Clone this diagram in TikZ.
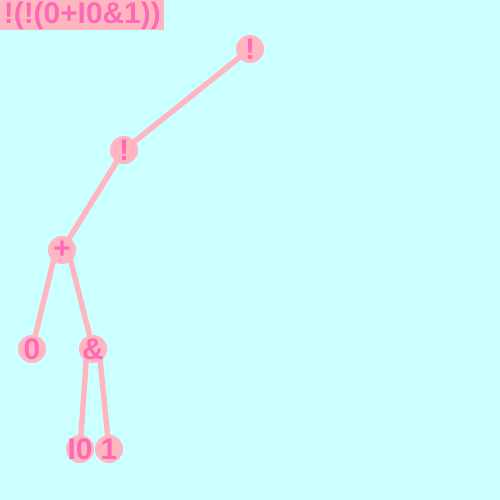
\documentclass[tikz,border=0pt]{standalone}
\usepackage{fontspec}
\setsansfont{Liberation Sans}
\usetikzlibrary{backgrounds}

\definecolor{bgcyan}{HTML}{CCFFFF}
\definecolor{nodepink}{HTML}{FFB6C1}
\definecolor{textpink}{HTML}{FF69B4}

\newcommand{\optext}[1]{\makebox[0pt]{#1}}

\begin{document}
\begin{tikzpicture}[
    op_node/.style={circle, fill=nodepink, inner sep=0pt, minimum size=0.56cm, text=textpink, font=\sffamily\bfseries\fontsize{17}{17}\selectfont},
    edge_style/.style={nodepink, line width=3.1pt},
    title_style/.style={fill=nodepink, text=textpink, anchor=north west, inner xsep=2pt, inner ysep=0pt, minimum height=0.6cm, font=\sffamily\bfseries\fontsize{17}{17}\selectfont}
]
    \useasboundingbox (0,0) rectangle (10,10);

    % Expression
    \node[title_style] (title) at (0,10) {!(!(0+I0\&1))};

    % Operators and operands
    \node[op_node] (not_outer) at (5.0, 9.02) {\optext{!}};
    \node[op_node] (not_inner) at (2.48, 7.0) {\optext{!}};
    \node[op_node] (plus) at (1.24, 5.0) {\optext{+}};
    \node[op_node] (zero) at (0.64, 3.02) {\optext{0}};
    \node[op_node] (and) at (1.86, 3.02) {\optext{\&}};
    \node[op_node] (not_zero) at (1.6, 1.02) {\optext{I0}};
    \node[op_node] (one) at (2.18, 1.02) {\optext{1}};

    % Background and edges
    \begin{scope}[on background layer]
        \fill[bgcyan] (0,0) rectangle (10,10);
        \draw[edge_style] (not_outer.center) -- (not_inner.center);
        \draw[edge_style] (not_inner.center) -- (plus.center);
        \draw[edge_style] ([xshift=-0.12cm]plus.center) -- (zero.center);
        \draw[edge_style] ([xshift=0.12cm]plus.center) -- (and.center);
        \draw[edge_style] ([xshift=-0.12cm]and.center) -- (not_zero.center);
        \draw[edge_style] ([xshift=0.12cm]and.center) -- (one.center);
    \end{scope}

\end{tikzpicture}
\end{document}
